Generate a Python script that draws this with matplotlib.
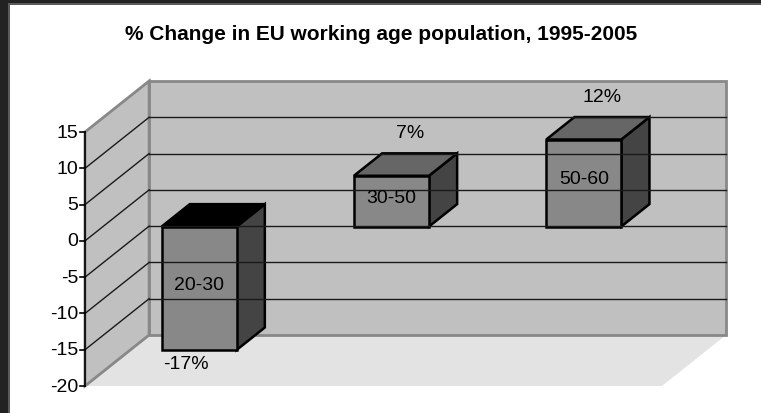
import matplotlib
matplotlib.use('Agg')
import matplotlib.pyplot as plt
from matplotlib.patches import Polygon, Rectangle

plt.rcParams['font.family'] = ['Liberation Sans', 'DejaVu Sans']

title = '% Change in EU working age population, 1995-2005'
categories = ['20-30', '30-50', '50-60']
values = [-17, 7, 12]
value_labels = ['-17%', '7%', '12%']
yticks = [-20, -15, -10, -5, 0, 5, 10, 15]

# oblique 3D look: depth 0 = front plane, depth 1 = back wall
DX = 1 / 3.0   # category units per unit of depth
DY = 7.03      # value units per unit of depth
ymin, ymax = yticks[0], yticks[-1]
xmin, xmax = -0.5, len(categories) - 0.5
half_w = 0.195
d0, d1 = 0.28, 0.72


def proj(x, v, d):
    return (x + d * DX, v + d * DY)


fig = plt.figure(figsize=(7.61, 4.14), dpi=100)
ax = fig.add_axes([0, 0, 1, 1])
ax.set_xlim(-0.942, 3.015)
ax.set_ylim(-23.72, 33.33)
ax.axis('off')

wall_c = '#c0c0c0'
floor_c = '#e3e3e3'
border_c = '#888888'
fs = 14

# floor
floor = [proj(xmin, ymin, 0), proj(xmax, ymin, 0), proj(xmax, ymin, 1), proj(xmin, ymin, 1)]
ax.add_patch(Polygon(floor, closed=True, facecolor=floor_c, edgecolor='none'))
# back wall
back = [proj(xmin, ymin, 1), proj(xmax, ymin, 1), proj(xmax, ymax, 1), proj(xmin, ymax, 1)]
ax.add_patch(Polygon(back, closed=True, facecolor=wall_c, edgecolor=border_c, lw=2))
# side wall
side = [proj(xmin, ymin, 0), proj(xmin, ymin, 1), proj(xmin, ymax, 1), proj(xmin, ymax, 0)]
ax.add_patch(Polygon(side, closed=True, facecolor=wall_c, edgecolor=border_c, lw=2))

# gridlines on back and side walls
for t in yticks[1:-1]:
    bx0, by0 = proj(xmin, t, 1)
    bx1, by1 = proj(xmax, t, 1)
    ax.plot([bx0, bx1], [by0, by1], color='#1a1a1a', lw=1)
    fx, fy = proj(xmin, t, 0)
    ax.plot([fx, bx0], [fy, by0], color='#1a1a1a', lw=1)

# value axis on the front edge
ax.plot([xmin, xmin], [ymin, ymax], color='black', lw=1.2)
tick_len = 0.028
for t in yticks:
    ax.plot([xmin - tick_len, xmin], [t, t], color='black', lw=1.2)
    ax.text(xmin - tick_len - 0.006, t, str(t), ha='right', va='center',
            fontsize=fs, color='black')

# bars
for i, v in enumerate(values):
    x0, x1 = i - half_w, i + half_w
    lo, hi = min(0, v), max(0, v)
    front = [proj(x0, lo, d0), proj(x1, lo, d0), proj(x1, hi, d0), proj(x0, hi, d0)]
    right = [proj(x1, lo, d0), proj(x1, lo, d1), proj(x1, hi, d1), proj(x1, hi, d0)]
    top = [proj(x0, hi, d0), proj(x1, hi, d0), proj(x1, hi, d1), proj(x0, hi, d1)]
    top_c = '#000000' if v < 0 else '#666666'
    for poly, c in [(right, '#444444'), (top, top_c), (front, '#888888')]:
        ax.add_patch(Polygon(poly, closed=True, facecolor=c, edgecolor='black',
                             lw=1.8, joinstyle='miter'))
    ax.annotate(categories[i], xy=proj(i, (lo + hi) / 2, d0), xytext=(0, 3),
                textcoords='offset points', ha='center', va='center', fontsize=fs)
    if v >= 0:
        ax.annotate(value_labels[i], xy=proj(i, v, 0.5), xytext=(3, 23),
                    textcoords='offset points', ha='center', va='center', fontsize=fs)
    else:
        ax.annotate(value_labels[i], xy=proj(i, v, d0), xytext=(-9.5, -10),
                    textcoords='offset points', ha='center', va='center', fontsize=fs)

fig.text(381 / 761, 1 - 34 / 414, title, ha='center', va='center',
         fontsize=15, fontweight='bold')

# dark slide frame along the top and left
fig.add_artist(Rectangle((0, 0), 9 / 761, 1, transform=fig.transFigure,
                         facecolor='#222222', edgecolor='none'))
fig.add_artist(Rectangle((0, 1 - 5 / 414), 1, 5 / 414, transform=fig.transFigure,
                         facecolor='#222222', edgecolor='none'))
fig.add_artist(Rectangle((8 / 761, 0), 2 / 761, 1 - 4 / 414, transform=fig.transFigure,
                         facecolor='#5a5a5a', edgecolor='none'))
fig.add_artist(Rectangle((8 / 761, 1 - 6 / 414), 1, 2 / 414, transform=fig.transFigure,
                         facecolor='#5a5a5a', edgecolor='none'))

fig.savefig('out.png', dpi=100)
